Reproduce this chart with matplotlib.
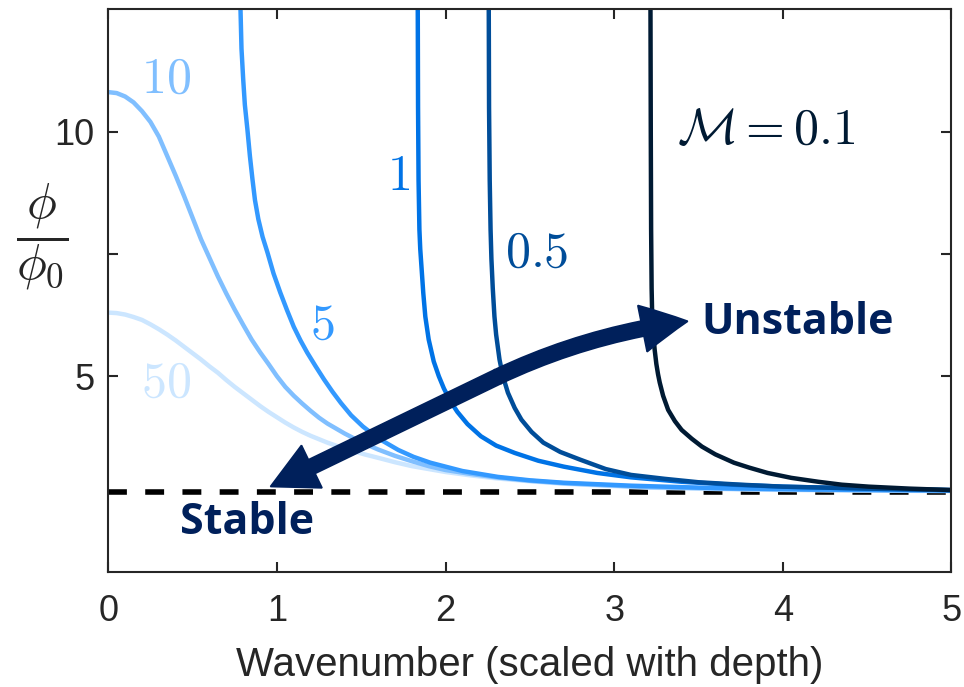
import matplotlib
matplotlib.use("Agg")
import matplotlib.pyplot as plt
from matplotlib.patches import FancyArrowPatch

# ---------------- data ----------------
m01_x = [3.215, 3.217, 3.219, 3.222, 3.225, 3.23, 3.235, 3.24, 3.25, 3.26, 3.27, 3.29, 3.32, 3.36, 3.40,
         3.46, 3.52, 3.60, 3.71, 3.80, 3.91, 4.05, 4.21, 4.35, 4.51, 4.75, 5.0]
m01_y = [12.8, 10.0, 8.0, 6.8, 6.3, 6.0, 5.75, 5.54, 5.25, 5.04, 4.87, 4.60, 4.31, 4.08, 3.90,
         3.72, 3.56, 3.40, 3.23, 3.13, 3.02, 2.92, 2.84, 2.78, 2.74, 2.70, 2.67]

m05_x = [2.256, 2.258, 2.262, 2.267, 2.272, 2.28, 2.29, 2.30, 2.32, 2.34, 2.37, 2.41, 2.45, 2.51, 2.58,
         2.68, 2.80, 2.95, 3.10, 3.30, 3.50, 3.75, 4.0, 4.5, 5.0]
m05_y = [12.8, 10.5, 9.0, 8.0, 7.4, 6.8, 6.22, 5.85, 5.34, 5.0, 4.66, 4.35, 4.11, 3.86, 3.64,
         3.45, 3.29, 3.10, 2.98, 2.90, 2.83, 2.78, 2.74, 2.70, 2.67]

m1_x = [1.835, 1.837, 1.840, 1.845, 1.85, 1.858, 1.868, 1.88, 1.90, 1.93, 1.96, 1.99, 2.03, 2.07, 2.13,
        2.21, 2.30, 2.41, 2.55, 2.70, 2.90, 3.10, 3.40, 3.70, 4.0, 4.5, 5.0]
m1_y = [12.8, 10.5, 9.0, 8.0, 7.6, 7.2, 6.7, 6.22, 5.75, 5.30, 5.0, 4.75, 4.48, 4.27, 4.02,
        3.77, 3.58, 3.43, 3.27, 3.15, 3.02, 2.93, 2.84, 2.78, 2.74, 2.70, 2.67]

m5_x = [0.782, 0.79, 0.80, 0.81, 0.825, 0.84, 0.855, 0.87, 0.89, 0.915, 0.944, 0.98, 1.02, 1.06, 1.10,
        1.14, 1.18, 1.23, 1.28, 1.33, 1.38, 1.44, 1.51, 1.60, 1.72, 1.81, 1.91, 2.10, 2.31, 2.50,
        2.70, 3.10, 3.60, 4.20, 5.0]
m5_y = [12.8, 11.7, 11.08, 10.55, 10.05, 9.5, 9.03, 8.6, 8.21, 7.85, 7.53, 7.1, 6.71, 6.35, 6.01,
        5.73, 5.48, 5.20, 4.93, 4.68, 4.45, 4.20, 3.97, 3.73, 3.49, 3.35, 3.23, 3.06, 2.94, 2.87,
        2.82, 2.76, 2.71, 2.68, 2.66]

m10_x = [0.0, 0.05, 0.10, 0.15, 0.20, 0.25, 0.30, 0.35, 0.40, 0.45, 0.50, 0.55, 0.60, 0.65, 0.70,
         0.75, 0.80, 0.85, 0.90, 0.95, 1.00, 1.05, 1.10, 1.15, 1.20, 1.25, 1.30, 1.35, 1.40, 1.45,
         1.52, 1.60, 1.70, 1.80, 1.90, 2.00, 2.15, 2.30, 2.50, 2.70, 2.95, 3.20, 3.50, 3.80, 4.40, 5.0]
m10_y = [10.81, 10.79, 10.72, 10.60, 10.42, 10.20, 9.90, 9.50, 9.10, 8.68, 8.24, 7.80, 7.42, 7.04, 6.69,
         6.36, 6.05, 5.75, 5.49, 5.25, 5.00, 4.78, 4.60, 4.44, 4.29, 4.15, 4.03, 3.93, 3.83, 3.74,
         3.62, 3.50, 3.37, 3.26, 3.16, 3.08, 3.00, 2.93, 2.86, 2.81, 2.77, 2.73, 2.71, 2.69, 2.67, 2.66]

m50_x = [0.0, 0.05, 0.10, 0.15, 0.20, 0.25, 0.30, 0.35, 0.40, 0.45, 0.50, 0.55, 0.60, 0.65, 0.70,
         0.75, 0.80, 0.85, 0.90, 0.95, 1.00, 1.05, 1.10, 1.15, 1.20, 1.25, 1.30, 1.35, 1.40, 1.45,
         1.52, 1.60, 1.70, 1.80, 1.90, 2.00, 2.15, 2.30, 2.50, 2.70, 2.95, 3.20, 3.50, 3.80, 4.40, 5.0]
m50_y = [6.30, 6.29, 6.26, 6.21, 6.15, 6.06, 5.96, 5.85, 5.73, 5.60, 5.47, 5.34, 5.20, 5.07, 4.92,
         4.78, 4.65, 4.52, 4.39, 4.27, 4.16, 4.05, 3.95, 3.86, 3.78, 3.71, 3.64, 3.58, 3.52, 3.47,
         3.40, 3.33, 3.24, 3.16, 3.10, 3.04, 2.97, 2.91, 2.85, 2.80, 2.76, 2.72, 2.70, 2.68, 2.66, 2.65]

stable_level = 2.633

series_x = [m01_x, m05_x, m1_x, m5_x, m10_x, m50_x]
series_y = [m01_y, m05_y, m1_y, m5_y, m10_y, m50_y]
series_colors = ["#001a33", "#004d99", "#0073e6", "#3399ff", "#80bfff", "#cce6ff"]
series_labels = [r"$\mathcal{M}=0.1$", "$0.5$", "$1$", "$5$", "$10$", "$50$"]
label_x = [3.90, 2.54, 1.72, 1.27, 0.344, 0.344]
label_y = [10.03, 7.53, 9.09, 6.06, 11.08, 4.87]

x_ticks = [0, 1, 2, 3, 4, 5]
y_ticks = [5, 7.5, 10]
y_ticklabels = ["5", "", "10"]

arrow_stable = (0.962, 2.742)
arrow_mid = (2.310, 4.99)
arrow_unstable = (3.436, 6.123)
navy = "#00205b"

# ---------------- figure ----------------
plt.rcParams["mathtext.fontset"] = "cm"
fig = plt.figure(figsize=(9.64, 6.87), dpi=100)
ax = fig.add_axes([0.1123, 0.1678, 0.8747, 0.8184])

ax.axhline(stable_level, color="black", lw=4, linestyle=(0, (3.4, 3.3)), zorder=1)

for xs, ys, c in zip(series_x[::-1], series_y[::-1], series_colors[::-1]):
    ax.plot(xs, ys, color=c, lw=3.2, solid_capstyle="butt", solid_joinstyle="round", zorder=2)

for lx, ly, lab, c in zip(label_x, label_y, series_labels, series_colors):
    ax.text(lx, ly, lab, color=c, fontsize=36, ha="center", va="center", zorder=5)

# double-headed curved arrow (two halves from the middle)
style = "simple,head_length=33,head_width=34,tail_width=11"
a1 = FancyArrowPatch(arrow_mid, arrow_stable, arrowstyle=style, mutation_scale=1,
                     shrinkA=0, shrinkB=0, fc=navy, ec=navy, lw=1.2, joinstyle="miter",
                     connectionstyle="arc3,rad=0.0", zorder=6)
a2 = FancyArrowPatch(arrow_mid, arrow_unstable, arrowstyle=style, mutation_scale=1,
                     shrinkA=0, shrinkB=0, fc=navy, ec=navy, lw=1.2, joinstyle="miter",
                     connectionstyle="arc3,rad=-0.08", zorder=6)
ax.add_patch(a1)
ax.add_patch(a2)

ax.text(4.085, 6.10, "Unstable", color=navy, fontsize=31, fontweight="bold",
        family="Open Sans", ha="center", va="center", zorder=6)
ax.text(0.825, 2.0, "Stable", color=navy, fontsize=31, fontweight="bold",
        family="Open Sans", ha="center", va="center", zorder=6)

ax.set_xlim(0, 5)
ax.set_ylim(1, 12.5)
ax.set_xticks(x_ticks)
ax.set_xticklabels([str(t) for t in x_ticks])
ax.set_yticks(y_ticks)
ax.set_yticklabels(y_ticklabels)

for sp in ax.spines.values():
    sp.set_linewidth(1.5)
    sp.set_color("#262626")
    sp.set_zorder(10)
ax.tick_params(direction="in", length=7, width=1.5, color="#262626", labelcolor="#262626",
               labelsize=26, top=True, right=True, pad=10)
ax.tick_params(axis="x", pad=16)
for lab in ax.get_xticklabels() + ax.get_yticklabels():
    lab.set_family("Liberation Sans")

ax.set_xlabel("Wavenumber (scaled with depth)", fontsize=29, family="Liberation Sans",
              color="#262626", labelpad=12)
fig.text(0.0436, 0.655, r"$\dfrac{\phi}{\phi_0}$", fontsize=36, ha="center", va="center", color="#262626")

fig.savefig("out.png", dpi=100)
